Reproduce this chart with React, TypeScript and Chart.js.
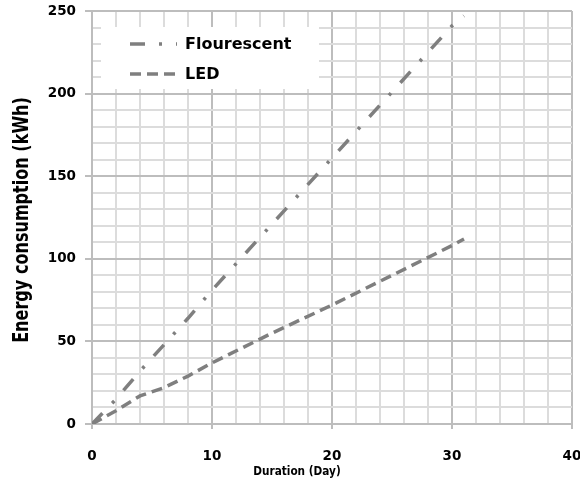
import React, { useEffect, useRef } from "react";
import { Chart, registerables } from "chart.js";

Chart.register(...registerables);

// ---- data ----
const seriesNames = ["Flourescent", "LED"];
const fluorescentDays = [0, 2, 4, 6, 8, 10, 15, 20, 25, 30, 31];
const fluorescentKWh = [0, 15, 32, 48, 64, 81, 121, 161, 201, 241, 247];
const ledDays = [0, 2, 4, 6, 8, 10, 15, 20, 25, 30, 31];
const ledKWh = [0, 8, 17, 22, 29, 37, 55, 72, 90, 108, 112];
const xTickLabels = [0, 10, 20, 30, 40];
const yTickLabels = [0, 50, 100, 150, 200, 250];
const xAxisTitle = "Duration (Day)";
const yAxisTitle = "Energy consumption (kWh)";

// ---- styles ----
const LINE_COLOR = "#7f7f7f";
const MAJOR_GRID = "#bdbdbd";
const MINOR_GRID = "#dcdcdc";
const FONT = "'DejaVu Sans', sans-serif";
const FLUOR_DASH = [15, 14, 3, 14];
const LED_DASH = [11, 6];

const xMajor = (v: number) => xTickLabels.includes(v);
const yMajor = (v: number) => yTickLabels.includes(v);

const legendPlugin = {
  id: "insideLegend",
  beforeDatasetsDraw(chart: any) {
    const ctx = chart.ctx;
    ctx.save();
    ctx.fillStyle = "#ffffff";
    ctx.fillRect(101, 27, 218, 62);
    const items = [
      { y: 44, dash: FLUOR_DASH, name: seriesNames[0] },
      { y: 74, dash: LED_DASH, name: seriesNames[1] },
    ];
    items.forEach((it) => {
      ctx.strokeStyle = LINE_COLOR;
      ctx.lineWidth = 3.5;
      ctx.lineCap = "butt";
      ctx.setLineDash(it.dash);
      ctx.beginPath();
      ctx.moveTo(130, it.y);
      ctx.lineTo(177, it.y);
      ctx.stroke();
      ctx.setLineDash([]);
      ctx.fillStyle = "#000000";
      ctx.font = `bold 16px ${FONT}`;
      ctx.textAlign = "left";
      ctx.textBaseline = "middle";
      ctx.fillText(it.name, 185, it.y + 1);
    });
    ctx.restore();
  },
};

const titlesPlugin = {
  id: "axisTitles",
  afterDraw(chart: any) {
    const ctx = chart.ctx;
    ctx.save();
    ctx.fillStyle = "#000000";
    ctx.textAlign = "center";
    ctx.textBaseline = "middle";
    // y title (condensed)
    ctx.save();
    ctx.translate(22, 220);
    ctx.rotate(-Math.PI / 2);
    ctx.scale(0.73, 1);
    ctx.font = `bold 22px ${FONT}`;
    ctx.fillText(yAxisTitle, 0, 0);
    ctx.restore();
    // x title (condensed)
    ctx.save();
    ctx.translate(297, 472);
    ctx.scale(0.81, 1);
    ctx.font = `bold 13px ${FONT}`;
    ctx.fillText(xAxisTitle, 0, 0);
    ctx.restore();
    ctx.restore();
  },
};

export default function App() {
  const ref = useRef<HTMLCanvasElement | null>(null);

  useEffect(() => {
    if (!ref.current) return;
    const chart = new Chart(ref.current, {
      type: "line",
      data: {
        datasets: [
          {
            label: seriesNames[0],
            data: fluorescentDays.map((d, i) => ({ x: d, y: fluorescentKWh[i] })),
            borderColor: LINE_COLOR,
            borderWidth: 3.5,
            borderDash: FLUOR_DASH,
            pointRadius: 0,
            fill: false,
            tension: 0,
          },
          {
            label: seriesNames[1],
            data: ledDays.map((d, i) => ({ x: d, y: ledKWh[i] })),
            borderColor: LINE_COLOR,
            borderWidth: 3.5,
            borderDash: LED_DASH,
            pointRadius: 0,
            fill: false,
            tension: 0,
          },
        ],
      },
      options: {
        responsive: false,
        animation: false,
        events: [],
        layout: { padding: { top: 11, right: 8, left: 0, bottom: 0 } },
        plugins: {
          legend: { display: false },
          tooltip: { enabled: false },
          title: { display: false },
        },
        scales: {
          x: {
            type: "linear",
            min: 0,
            max: 40,
            afterFit: (s: any) => {
              s.height = 60;
              s.paddingLeft = 0;
              s.paddingRight = 0;
            },
            ticks: {
              stepSize: 2,
              autoSkip: false,
              maxRotation: 0,
              padding: 19,
              color: "#000000",
              font: { family: FONT, size: 13.5, weight: "bold" },
              callback: (v: any) => (xMajor(Number(v)) ? String(v) : ""),
            },
            grid: {
              color: (c: any) => (xMajor(c.tick?.value) ? MAJOR_GRID : MINOR_GRID),
              lineWidth: 2,
              tickLength: 5,
              tickColor: (c: any) => (xMajor(c.tick?.value) ? MAJOR_GRID : "rgba(0,0,0,0)"),
            },
            border: { display: true, color: MAJOR_GRID, width: 2 },
          },
          y: {
            type: "linear",
            min: 0,
            max: 250,
            afterFit: (s: any) => {
              s.width = 92;
              s.paddingTop = 0;
              s.paddingBottom = 0;
            },
            ticks: {
              stepSize: 10,
              autoSkip: false,
              padding: 9,
              color: "#000000",
              font: { family: FONT, size: 13.5, weight: "bold" },
              callback: (v: any) => (yMajor(Number(v)) ? String(v) : ""),
            },
            grid: {
              color: (c: any) => (yMajor(c.tick?.value) ? MAJOR_GRID : MINOR_GRID),
              lineWidth: 2,
              tickLength: 7,
              tickColor: (c: any) => (yMajor(c.tick?.value) ? MAJOR_GRID : "rgba(0,0,0,0)"),
            },
            border: { display: true, color: MAJOR_GRID, width: 2 },
          },
        },
      },
      plugins: [legendPlugin, titlesPlugin],
    } as any);
    return () => chart.destroy();
  }, []);

  return (
    <div style={{ position: "fixed", left: 0, top: 0, width: 580, height: 484, background: "#ffffff" }}>
      <canvas ref={ref} width={580} height={484} style={{ display: "block" }} />
    </div>
  );
}
